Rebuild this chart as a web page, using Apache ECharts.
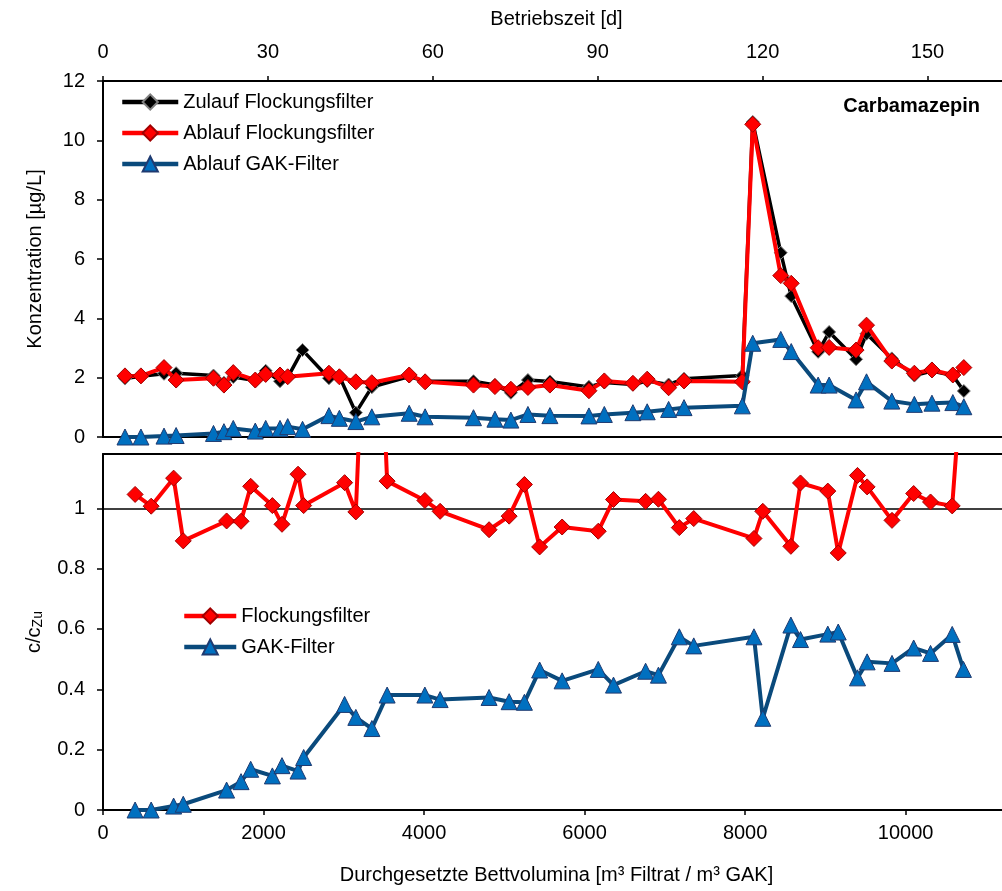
<!DOCTYPE html>
<html>
<head>
<meta charset="utf-8">
<script src="https://cdn.jsdelivr.net/npm/echarts@6/dist/echarts.min.js"></script>
<style>
  html, body { margin: 0; padding: 0; background: #fff; }
  #chart { width: 1002px; height: 891px; }
</style>
</head>
<body>
<div id="chart"></div>
<script>
// Betriebszeit [d] of each sample (top panel)
const days = [4.0, 6.9, 11.1, 13.3, 20.1, 22.0, 23.7, 27.7, 29.6, 32.2, 33.6, 36.3, 41.1, 43.0, 46.0, 48.9, 55.7, 58.6,
  67.4, 71.3, 74.2, 77.3, 81.3, 88.4, 91.2, 96.4, 99.0, 102.9, 105.7, 116.3, 118.2, 123.3, 125.2, 130.1, 132.1,
  137.0, 138.9, 143.5, 147.6, 150.8, 154.6, 156.6]
// Konzentration [µg/L]
const zulauf = [1.97, 2.05, 2.13, 2.15, 2.07, 1.83, 2.02, 1.90, 2.23, 1.88, 2.01, 2.93, 1.98, 2.05, 0.82, 1.68, 2.04, 1.88,
  1.88, 1.75, 1.49, 1.92, 1.87, 1.69, 1.84, 1.77, 1.89, 1.77, 1.96, 2.07, 10.62, 6.21, 4.75, 2.87, 3.54,
  2.62, 3.48, 2.65, 2.07, 2.22, 2.07, 1.55]
const ablaufFF = [2.06, 2.06, 2.34, 1.92, 1.98, 1.75, 2.17, 1.92, 2.11, 2.09, 2.03, null, 2.15, 2.03, 1.86, 1.83, 2.09, 1.86,
  1.75, 1.70, 1.61, 1.67, 1.75, 1.56, 1.89, 1.81, 1.95, 1.66, 1.89, 1.86, 10.54, 5.44, 5.18, 3.01, 3.02,
  2.93, 3.77, 2.56, 2.15, 2.26, 2.09, 2.34]
const ablaufGAK = [0.0, 0.0, 0.03, 0.05, 0.12, 0.18, 0.29, 0.20, 0.29, 0.29, 0.35, 0.26, 0.72, 0.63, 0.52, 0.68, 0.80, 0.68,
  0.65, 0.60, 0.57, 0.76, 0.72, 0.71, 0.76, 0.82, 0.85, 0.93, 0.99, 1.05, 3.16, 3.29, 2.88, 1.75, 1.75,
  1.25, 1.86, 1.21, 1.10, 1.14, 1.16, 1.02]

// Durchgesetzte Bettvolumina (bottom panel)
const bv = [400, 600, 880, 1000, 1540, 1720, 1840, 2110, 2230, 2430, 2500, 3010, 3150, 3350, 3540, 4010, 4200,
  4810, 5060, 5250, 5440, 5720, 6170, 6360, 6760, 6920, 7180, 7360, 8110, 8220, 8570, 8690, 9030, 9160,
  9400, 9520, 9830, 10100, 10310, 10580, 10720]
// c/cZu
const ratioFF = [1.046, 1.007, 1.100, 0.892, 0.958, 0.957, 1.073, 1.009, 0.947, 1.113, 1.009, 1.085, 0.988, 2.27, 1.090,
  1.026, 0.990, 0.929, 0.974, 1.079, 0.872, 0.938, 0.924, 1.029, 1.023, 1.030, 0.936, 0.966, 0.900, 0.990,
  0.874, 1.084, 1.057, 0.852, 1.109, 1.071, 0.960, 1.049, 1.021, 1.008, 1.51]
const ratioGAK = [0.0, 0.0, 0.013, 0.019, 0.066, 0.094, 0.135, 0.113, 0.147, 0.129, 0.174, 0.350, 0.307, 0.270, 0.381,
  0.381, 0.366, 0.373, 0.359, 0.357, 0.464, 0.428, 0.466, 0.414, 0.460, 0.447, 0.574, 0.544, 0.574, 0.304,
  0.613, 0.565, 0.583, 0.590, 0.438, 0.491, 0.486, 0.537, 0.519, 0.582, 0.466]

// tick labels
const dayTicks = [0, 30, 60, 90, 120, 150]
const bvTicks = [0, 2000, 4000, 6000, 8000, 10000]
const concTicks = [0, 2, 4, 6, 8, 10, 12]
const ratioTicks = [0, 0.2, 0.4, 0.6, 0.8, 1]

const font = 'Liberation Sans, Arial, sans-serif'
const pairs = (xs, ys) => xs.map((x, i) => [x, ys[i]]).filter(p => p[1] != null)
const plain = v => String(v)

const chart = echarts.init(document.getElementById('chart'))

const labelStyle = { color: '#000', fontSize: 20, fontFamily: font }
const axisLine = { show: true, onZero: false, lineStyle: { color: '#000', width: 2 } }
const tickLine = { color: '#000', width: 1.5 }

const blackSym = { color: '#000', borderColor: '#808080', borderWidth: 1 }
const redSym = { color: '#ff0000', borderColor: '#a00000', borderWidth: 1 }
const blueSym = { color: '#0070c0', borderColor: '#1f3a70', borderWidth: 1 }

// plain frame line along one side of a panel
function frameAxis (gridIndex, position, max) {
  return {
    gridIndex: gridIndex,
    type: 'value',
    position: position,
    min: 0,
    max: max,
    axisLine: axisLine,
    axisTick: { show: false },
    axisLabel: { show: false },
    splitLine: { show: false }
  }
}

chart.setOption({
  animation: false,
  backgroundColor: '#fff',
  textStyle: { fontFamily: font },
  title: {
    text: 'Carbamazepin',
    right: 17,
    top: 91,
    textStyle: { fontSize: 20, fontWeight: 'bold', color: '#000', fontFamily: font }
  },
  legend: [
    {
      data: ['Zulauf Flockungsfilter', 'Ablauf Flockungsfilter', 'Ablauf GAK-Filter'],
      orient: 'vertical',
      left: 120,
      top: 92,
      padding: 0,
      itemWidth: 56,
      itemHeight: 19,
      itemGap: 11,
      lineStyle: { width: 4.5 },
      textStyle: { fontSize: 20, color: '#000', fontFamily: font }
    },
    {
      data: ['Flockungsfilter', 'GAK-Filter'],
      orient: 'vertical',
      left: 182,
      top: 606,
      padding: 0,
      itemWidth: 52,
      itemHeight: 19,
      itemGap: 11,
      lineStyle: { width: 4.5 },
      textStyle: { fontSize: 20, color: '#000', fontFamily: font }
    }
  ],
  grid: [
    { left: 103, top: 81, width: 907, height: 356, outerBoundsMode: 'none' },
    { left: 103, top: 454, width: 907, height: 356, outerBoundsMode: 'none' }
  ],
  xAxis: [
    {
      gridIndex: 0,
      type: 'value',
      position: 'top',
      min: 0,
      max: 165,
      interval: 30,
      name: 'Betriebszeit [d]',
      nameLocation: 'middle',
      nameGap: 52,
      nameTextStyle: labelStyle,
      axisLine: axisLine,
      axisTick: { show: true, length: 5, lineStyle: tickLine, customValues: dayTicks },
      axisLabel: Object.assign({ margin: 19, customValues: dayTicks, formatter: plain }, labelStyle),
      splitLine: { show: false }
    },
    {
      gridIndex: 1,
      type: 'value',
      position: 'bottom',
      min: 0,
      max: 11300,
      interval: 2000,
      name: 'Durchgesetzte Bettvolumina [m³ Filtrat / m³ GAK]',
      nameLocation: 'middle',
      nameGap: 55,
      nameTextStyle: labelStyle,
      axisLine: axisLine,
      axisTick: { show: true, length: 5, lineStyle: tickLine, customValues: bvTicks },
      axisLabel: Object.assign({ margin: 13, customValues: bvTicks, formatter: plain }, labelStyle),
      splitLine: { show: false }
    },
    frameAxis(0, 'bottom', 165),
    frameAxis(1, 'top', 11300)
  ],
  yAxis: [
    {
      gridIndex: 0,
      type: 'value',
      min: 0,
      max: 12,
      interval: 2,
      name: 'Konzentration [µg/L]',
      nameLocation: 'middle',
      nameGap: 58,
      nameTextStyle: labelStyle,
      axisLine: axisLine,
      axisTick: { show: true, length: 6, lineStyle: tickLine, customValues: concTicks },
      axisLabel: Object.assign({ margin: 18, customValues: concTicks, formatter: plain }, labelStyle),
      splitLine: { show: false }
    },
    {
      gridIndex: 1,
      type: 'value',
      min: 0,
      max: 1.18,
      interval: 0.2,
      name: '{a|c/c}{b|Zu}',
      nameLocation: 'middle',
      nameGap: 58,
      nameTextStyle: {
        rich: {
          a: { fontSize: 20, color: '#000', fontFamily: font },
          b: { fontSize: 14, color: '#000', fontFamily: font, verticalAlign: 'bottom', padding: [8, 0, 0, 0] }
        }
      },
      axisLine: axisLine,
      axisTick: { show: true, length: 6, lineStyle: tickLine, customValues: ratioTicks },
      axisLabel: Object.assign({ margin: 18, customValues: ratioTicks, formatter: plain }, labelStyle),
      splitLine: { show: false }
    },
    {
      gridIndex: 0,
      type: 'value',
      min: 0,
      max: 12,
      interval: 2,
      axisLine: { show: false },
      axisTick: { show: true, inside: true, length: 6, lineStyle: tickLine, customValues: concTicks },
      axisLabel: { show: false },
      splitLine: { show: false }
    },
    {
      gridIndex: 1,
      type: 'value',
      min: 0,
      max: 1.18,
      interval: 0.2,
      axisLine: { show: false },
      axisTick: { show: true, inside: true, length: 6, lineStyle: tickLine, customValues: ratioTicks },
      axisLabel: { show: false },
      splitLine: { show: false }
    }
  ],
  series: [
    {
      name: 'Zulauf Flockungsfilter',
      type: 'line',
      xAxisIndex: 0,
      yAxisIndex: 0,
      data: pairs(days, zulauf),
      symbol: 'diamond',
      symbolSize: 13,
      lineStyle: { color: '#000', width: 3.5 },
      itemStyle: blackSym,
      z: 2
    },
    {
      name: 'Ablauf Flockungsfilter',
      type: 'line',
      xAxisIndex: 0,
      yAxisIndex: 0,
      data: pairs(days, ablaufFF),
      symbol: 'diamond',
      symbolSize: 16,
      lineStyle: { color: '#ff0000', width: 4 },
      itemStyle: redSym,
      z: 3
    },
    {
      name: 'Ablauf GAK-Filter',
      type: 'line',
      xAxisIndex: 0,
      yAxisIndex: 0,
      data: pairs(days, ablaufGAK),
      symbol: 'triangle',
      symbolSize: 16,
      lineStyle: { color: '#0a4a7c', width: 4 },
      itemStyle: blueSym,
      z: 4
    },
    {
      name: 'Flockungsfilter',
      type: 'line',
      xAxisIndex: 1,
      yAxisIndex: 1,
      data: pairs(bv, ratioFF),
      symbol: 'diamond',
      symbolSize: 16,
      lineStyle: { color: '#ff0000', width: 4 },
      itemStyle: redSym,
      z: 3,
      markLine: {
        silent: true,
        symbol: 'none',
        label: { show: false },
        lineStyle: { color: '#000', width: 1.5, type: 'solid' },
        data: [{ yAxis: 1 }],
        z: 1
      }
    },
    {
      name: 'GAK-Filter',
      type: 'line',
      xAxisIndex: 1,
      yAxisIndex: 1,
      data: pairs(bv, ratioGAK),
      symbol: 'triangle',
      symbolSize: 16,
      lineStyle: { color: '#0a4a7c', width: 4 },
      itemStyle: blueSym,
      z: 4
    }
  ]
})
</script>
</body>
</html>
